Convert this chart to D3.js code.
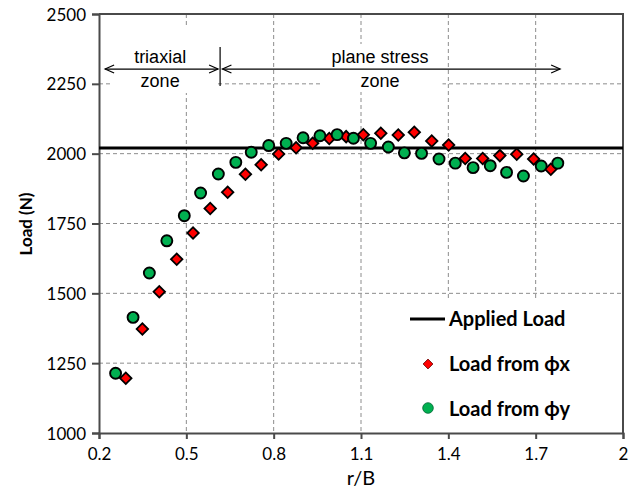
<!DOCTYPE html>
<html>
<head>
<meta charset="utf-8">
<script src="https://d3js.org/d3.v7.min.js"></script>
<style>
  html, body { margin: 0; padding: 0; background: #fff; overflow: hidden; }
  svg { display: block; }
  text { font-family: Lato, "Noto Sans", sans-serif; fill: #000; }
</style>
</head>
<body>
<svg width="639" height="494"></svg>
<script>
// values
const rbPhiX = [0.292, 0.349, 0.407, 0.467, 0.523, 0.582, 0.642, 0.703, 0.757, 0.817, 0.877, 0.934, 0.991,
  1.049, 1.108, 1.168, 1.228, 1.283, 1.343, 1.401, 1.458, 1.518, 1.577, 1.635, 1.693, 1.752];
const loadPhiX = [1196, 1372, 1506, 1622, 1716, 1804, 1862, 1926, 1960, 1999, 2021, 2037, 2054,
  2061, 2068, 2073, 2067, 2077, 2045, 2031, 1983, 1983, 1993, 1998, 1981, 1944];
const rbPhiY = [0.257, 0.317, 0.373, 0.433, 0.493, 0.549, 0.610, 0.670, 0.723, 0.783, 0.843, 0.901, 0.959, 1.018,
  1.074, 1.133, 1.194, 1.249, 1.308, 1.368, 1.424, 1.485, 1.544, 1.600, 1.658, 1.719, 1.776];
const loadPhiY = [1214, 1414, 1573, 1688, 1778, 1859, 1927, 1969, 2005, 2029, 2037, 2057, 2064, 2068,
  2055, 2037, 2024, 2003, 2001, 1981, 1966, 1950, 1957, 1933, 1920, 1956, 1966];
const appliedLoad = 2020;
const xTicks = [0.2, 0.5, 0.8, 1.1, 1.4, 1.7, 2];
const yTicks = [1000, 1250, 1500, 1750, 2000, 2250, 2500];
const zoneLimit = 0.616;

const svg = d3.select('svg');
const margin = {top: 14, right: 16, bottom: 60, left: 99};
const innerWidth = 639 - margin.left - margin.right;
const innerHeight = 494 - margin.top - margin.bottom - 1;

const xScale = d3.scaleLinear().domain([0.2, 2]).range([0, innerWidth]);
const yScale = d3.scaleLinear().domain([1000, 2500]).range([innerHeight, 0]);

const g = svg.append('g').attr('transform', `translate(${margin.left}, ${margin.top})`);

// dashed grid
g.append('g').selectAll('line').data(yTicks.slice(1, -1)).enter().append('line')
  .attr('x1', 0).attr('x2', innerWidth)
  .attr('y1', d => yScale(d)).attr('y2', d => yScale(d))
  .attr('stroke', '#8c8c8c').attr('stroke-dasharray', '4,3');
g.append('g').selectAll('line').data(xTicks.slice(1, -1)).enter().append('line')
  .attr('y1', 0).attr('y2', innerHeight)
  .attr('x1', d => xScale(d)).attr('x2', d => xScale(d))
  .attr('stroke', '#8c8c8c').attr('stroke-dasharray', '4,3');

// white text boxes that hide the grid under the annotations
g.append('rect').attr('x', xScale(0.238)).attr('y', 12).attr('width', xScale(0.599) - xScale(0.238)).attr('height', 67).attr('fill', '#fff');
g.append('rect').attr('x', xScale(0.964)).attr('y', 30).attr('width', xScale(1.380) - xScale(0.964)).attr('height', 48).attr('fill', '#fff');
// legend box
g.append('rect').attr('x', 265).attr('y', 284).attr('width', innerWidth - 266).attr('height', innerHeight - 285).attr('fill', '#fff');

// axes
const yAxis = g.append('g').call(d3.axisLeft(yScale).tickValues(yTicks).tickSize(7).tickPadding(6).tickFormat(d3.format('d')));
yAxis.selectAll('text').style('font-size', '17px').attr('dy', '0.36em');
const xAxis = g.append('g').attr('transform', `translate(0, ${innerHeight})`)
  .call(d3.axisBottom(xScale).tickValues(xTicks).tickSize(6).tickPadding(9).tickFormat(d => d));
xAxis.selectAll('text').style('font-size', '17px');
svg.selectAll('.domain, .tick line').attr('stroke', '#4a4a4a').attr('stroke-width', 2);

// frame top/right
g.append('path').attr('d', `M0,0H${innerWidth}V${innerHeight}`).attr('fill', 'none').attr('stroke', '#4a4a4a').attr('stroke-width', 2);

// axis titles
svg.append('text').attr('transform', 'translate(32, 224) rotate(-90)')
  .attr('text-anchor', 'middle').style('font-size', '17px').style('font-weight', 'bold').text('Load (N)');
svg.append('text').attr('x', margin.left + innerWidth / 2).attr('y', 485)
  .attr('text-anchor', 'middle').style('font-size', '20px').text('r/B');

// zone annotations
const arrowY = yScale(2303);
const arrow = (x1, x2) => {
  g.append('line').attr('x1', x1).attr('x2', x2).attr('y1', arrowY).attr('y2', arrowY).attr('stroke', '#000').attr('stroke-width', 1.2);
  [x1, x2].forEach((x, i) => {
    const s = i === 0 ? 1 : -1;
    g.append('path').attr('d', `M${x + s * 9},${arrowY - 4}L${x},${arrowY}L${x + s * 9},${arrowY + 4}`)
      .attr('fill', 'none').attr('stroke', '#000').attr('stroke-width', 1.2);
  });
};
arrow(xScale(0.221), xScale(0.609));
arrow(xScale(0.624), xScale(1.784));
g.append('line').attr('x1', xScale(zoneLimit)).attr('x2', xScale(zoneLimit))
  .attr('y1', arrowY - 22).attr('y2', arrowY + 17).attr('stroke', '#000').attr('stroke-width', 1.2);
const zoneText = (x, y, t) => g.append('text').attr('x', xScale(x)).attr('y', y)
  .attr('text-anchor', 'middle').style('font-family', '"Liberation Sans", Arial, sans-serif')
  .style('font-size', '18px').text(t);
zoneText(0.41, 49, 'triaxial');
zoneText(0.41, 73, 'zone');
zoneText(1.165, 49, 'plane stress');
zoneText(1.165, 73, 'zone');

// applied load line
g.append('line').attr('x1', 0).attr('x2', innerWidth)
  .attr('y1', yScale(appliedLoad)).attr('y2', yScale(appliedLoad))
  .attr('stroke', '#000').attr('stroke-width', 3);

// markers
const diamond = d3.symbol().type(d3.symbolSquare).size(66);
g.append('g').selectAll('path').data(rbPhiX.map((r, i) => [r, loadPhiX[i]])).enter().append('path')
  .attr('d', diamond)
  .attr('transform', d => `translate(${xScale(d[0])}, ${yScale(d[1])}) rotate(45)`)
  .attr('fill', '#ff0000').attr('stroke', '#000').attr('stroke-width', 1.8);
g.append('g').selectAll('circle').data(rbPhiY.map((r, i) => [r, loadPhiY[i]])).enter().append('circle')
  .attr('cx', d => xScale(d[0])).attr('cy', d => yScale(d[1])).attr('r', 5.5)
  .attr('fill', '#00b050').attr('stroke', '#000').attr('stroke-width', 1.9);

// legend
const legend = svg.append('g');
legend.append('line').attr('x1', 410).attr('x2', 445).attr('y1', 319).attr('y2', 319).attr('stroke', '#000').attr('stroke-width', 3);
legend.append('path').attr('d', d3.symbol().type(d3.symbolSquare).size(48))
  .attr('transform', 'translate(428, 364) rotate(45)').attr('fill', '#ff0000').attr('stroke', '#600').attr('stroke-width', 0.8);
legend.append('circle').attr('cx', 428).attr('cy', 408).attr('r', 5.3).attr('fill', '#00b050').attr('stroke', '#063').attr('stroke-width', 0.8);
const legendLabels = ['Applied Load', 'Load from ϕx', 'Load from ϕy'];
legend.selectAll('text.lbl').data(legendLabels).enter().append('text')
  .attr('class', 'lbl').attr('x', 449).attr('y', (d, i) => 326 + i * 45)
  .style('font-size', '20px').style('font-weight', 'bold').text(d => d);
</script>
</body>
</html>
